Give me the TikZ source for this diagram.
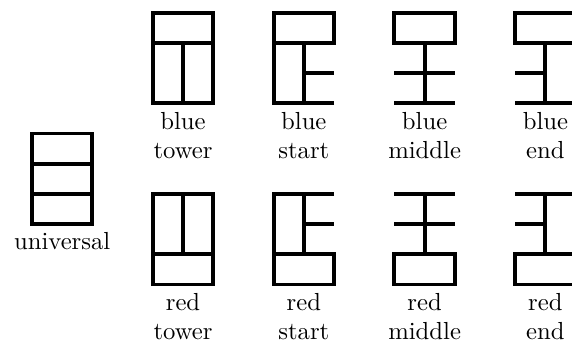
\documentclass[tikz,border=0pt]{standalone}
\usepackage{tikz}
\usetikzlibrary{positioning}

\begin{document}
\begin{tikzpicture}[
    x=0.43cm, y=0.43cm,
    tile/.style={ultra thick},
    tilename/.style={align=center, anchor=north}
]
    \useasboundingbox (-1.06,0.42) rectangle (17.88,-10.9);
    \clip (-1.06,0.42) rectangle (17.88,-10.9);

    % universal tile
    \draw[tile] (0,-4) rectangle (2,-7);
    \draw[tile] (0,-5) -- (2,-5) (0,-6) -- (2,-6);
    \node[tilename] (universal) at (1,-7) {universal};

    % blue row on top, red row is the same flipped upside down
    \foreach \col/\base/\s/\lab in {blue/-3/1/-3, red/-6/-1/-9} {
        \begin{scope}[shift={(0,\base)}, yscale=\s]
            % tower
            \draw[tile] (4,0) rectangle (6,3);
            \draw[tile] (4,2) -- (6,2) (5,0) -- (5,2);
            % start
            \draw[tile] (10,0) -- (8,0) -- (8,3) -- (10,3) -- (10,2) -- (8,2);
            \draw[tile] (9,0) -- (9,2) (9,1) -- (10,1);
            % middle
            \draw[tile] (12,2) rectangle (14,3);
            \draw[tile] (13,0) -- (13,2) (12,1) -- (14,1) (12,0) -- (14,0);
            % end
            \draw[tile] (16,2) rectangle (18,3);
            \draw[tile] (17,0) -- (17,2) (16,1) -- (17,1) (16,0) -- (18,0);
        \end{scope}
        \node[tilename] (\col-tower) at (5,\lab) {\col\\tower};
        \node[tilename] (\col-start) at (9,\lab) {\col\\start};
        \node[tilename] (\col-middle) at (13,\lab) {\col\\middle};
        \node[tilename] (\col-end) at (17,\lab) {\col\\end};
    }
\end{tikzpicture}
\end{document}
